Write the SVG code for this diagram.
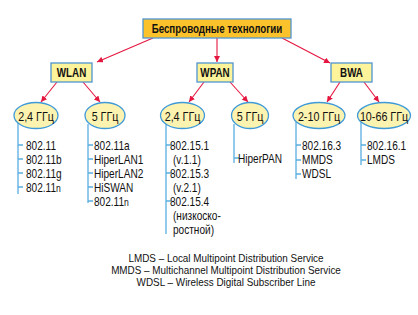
<svg xmlns="http://www.w3.org/2000/svg" width="418" height="315" viewBox="0 0 418 315">
<defs>
<marker id="ah" viewBox="0 0 10 10" refX="10" refY="5" markerWidth="6" markerHeight="6" orient="auto" markerUnits="userSpaceOnUse">
<path d="M0,0 L10,5 L0,10 z" fill="#e5163f"/>
</marker>
<style>
.t{font-family:"Liberation Sans",Arial,sans-serif;fill:#111;}
.lst{font-size:12.3px;}
.b{font-weight:bold;}
.m{text-anchor:middle;}
.con{stroke:#e5163f;stroke-width:1.1;fill:none;marker-end:url(#ah);}
.vl{stroke:#5aaee0;stroke-width:1.3;fill:none;}
.box1{fill:#fcc22c;stroke:#4f95d0;stroke-width:1.3;}
.box2{fill:#fdf39a;stroke:#4f95d0;stroke-width:1.3;}
.ell{fill:#fdf3b0;stroke:#3f9ad8;stroke-width:1.3;}
</style>
</defs>
<rect width="418" height="315" fill="#fff"/>
<g id="connectors">
<line class="con" x1="153" y1="38" x2="97" y2="62"/>
<line class="con" x1="217" y1="38" x2="217" y2="62"/>
<line class="con" x1="282" y1="38" x2="330" y2="63"/>
<line class="con" x1="57" y1="82" x2="41" y2="102"/>
<line class="con" x1="83" y1="82" x2="100" y2="102"/>
<line class="con" x1="204" y1="82" x2="189" y2="102"/>
<line class="con" x1="230" y1="82" x2="248" y2="102"/>
<line class="con" x1="340" y1="82" x2="327" y2="102"/>
<line class="con" x1="364" y1="82" x2="379" y2="102"/>
</g>
<g id="lists">
<path class="vl" d="M18,122 V194 M18,145 H23 M18,159 H23 M18,173 H23 M18,187 H23"/>
<text class="t lst" transform="translate(26,150) scale(.82,1)">802.11</text>
<text class="t lst" transform="translate(26,164) scale(.82,1)">802.11b</text>
<text class="t lst" transform="translate(26,178) scale(.82,1)">802.11g</text>
<text class="t lst" transform="translate(26,192) scale(.82,1)">802.11<tspan font-size="10.5">n</tspan></text>
<path class="vl" d="M88,124 V203 M88,145 H93 M88,159 H93 M88,173 H93 M88,187 H93 M88,201 H93"/>
<text class="t lst" transform="translate(94,150) scale(.82,1)">802.11a</text>
<text class="t lst" transform="translate(94,164) scale(.82,1)">HiperLAN1</text>
<text class="t lst" transform="translate(94,178) scale(.82,1)">HiperLAN2</text>
<text class="t lst" transform="translate(94,192) scale(.82,1)">HiSWAN</text>
<text class="t lst" transform="translate(94,206) scale(.82,1)">802.11<tspan font-size="10.5">n</tspan></text>
<path class="vl" d="M166,122 V234 M166,145 H171 M166,173 H171 M166,201 H171"/>
<text class="t lst" transform="translate(170,150) scale(.82,1)">802.15.1</text>
<text class="t lst" transform="translate(173,164) scale(.82,1)">(v.1.1)</text>
<text class="t lst" transform="translate(170,178) scale(.82,1)">802.15.3</text>
<text class="t lst" transform="translate(173,192) scale(.82,1)">(v.2.1)</text>
<text class="t lst" transform="translate(170,206) scale(.82,1)">802.15.4</text>
<text class="t lst" transform="translate(173,220) scale(.82,1)">(низкоско-</text>
<text class="t lst" transform="translate(173,234) scale(.82,1)">ростной)</text>
<path class="vl" d="M234,124 V163 M234,158 H239"/>
<text class="t lst" transform="translate(238,163) scale(.82,1)">HiperPAN</text>
<path class="vl" d="M296,122 V179 M296,145 H301 M296,160 H301 M296,174 H301"/>
<text class="t lst" transform="translate(302,150) scale(.82,1)">802.16.3</text>
<text class="t lst" transform="translate(302,164) scale(.82,1)">MMDS</text>
<text class="t lst" transform="translate(302,178) scale(.82,1)">WDSL</text>
<path class="vl" d="M361,122 V165 M361,145 H366 M361,160 H366"/>
<text class="t lst" transform="translate(367,150) scale(.82,1)">802.16.1</text>
<text class="t lst" transform="translate(367,164) scale(.82,1)">LMDS</text>
</g>
<g id="root">
<rect class="box1" x="143" y="19" width="148" height="19"/>
<text class="t b m" transform="translate(217,33) scale(.78,1)" font-size="12.5">Беспроводные технологии</text>
</g>
<g id="wlan">
<rect class="box2" x="51" y="63" width="41" height="19"/>
<text class="t b m" transform="translate(71.5,77) scale(.82,1)" font-size="12">WLAN</text>
</g>
<g id="wpan">
<rect class="box2" x="197" y="63" width="36" height="19"/>
<text class="t b m" transform="translate(215,77) scale(.82,1)" font-size="12">WPAN</text>
</g>
<g id="bwa">
<rect class="box2" x="331" y="63" width="41" height="19"/>
<text class="t b m" transform="translate(351.5,77) scale(.82,1)" font-size="12">BWA</text>
</g>
<g id="wlan24">
<ellipse class="ell" cx="36" cy="115.5" rx="22" ry="13"/>
<text class="t m" transform="translate(36,120.5) scale(.86,1)" font-size="12.5">2,4 ГГц</text>
</g>
<g id="wlan5">
<ellipse class="ell" cx="105" cy="115.5" rx="20" ry="13"/>
<text class="t m" transform="translate(105,120.5) scale(.86,1)" font-size="12.5">5 ГГц</text>
</g>
<g id="wpan24">
<ellipse class="ell" cx="182.5" cy="115.5" rx="22" ry="13"/>
<text class="t m" transform="translate(182.5,120.5) scale(.86,1)" font-size="12.5">2,4 ГГц</text>
</g>
<g id="wpan5">
<ellipse class="ell" cx="250" cy="115.5" rx="18.5" ry="13"/>
<text class="t m" transform="translate(250,120.5) scale(.86,1)" font-size="12.5">5 ГГц</text>
</g>
<g id="bwa210">
<ellipse class="ell" cx="319" cy="115.5" rx="26" ry="13"/>
<text class="t m" transform="translate(319,120.5) scale(.86,1)" font-size="12.5">2-10 ГГц</text>
</g>
<g id="bwa1066">
<ellipse class="ell" cx="384" cy="115.5" rx="26.5" ry="13"/>
<text class="t m" transform="translate(384,120.5) scale(.86,1)" font-size="12.5">10-66 ГГц</text>
</g>
<g id="legend">
<text class="t m" transform="translate(226,262) scale(.9,1)" font-size="11">LMDS – Local Multipoint Distribution Service</text>
<text class="t m" transform="translate(226,274) scale(.9,1)" font-size="11">MMDS – Multichannel Multipoint Distribution Service</text>
<text class="t m" transform="translate(226,286) scale(.9,1)" font-size="11">WDSL – Wireless Digital Subscriber Line</text>
</g>
</svg>
